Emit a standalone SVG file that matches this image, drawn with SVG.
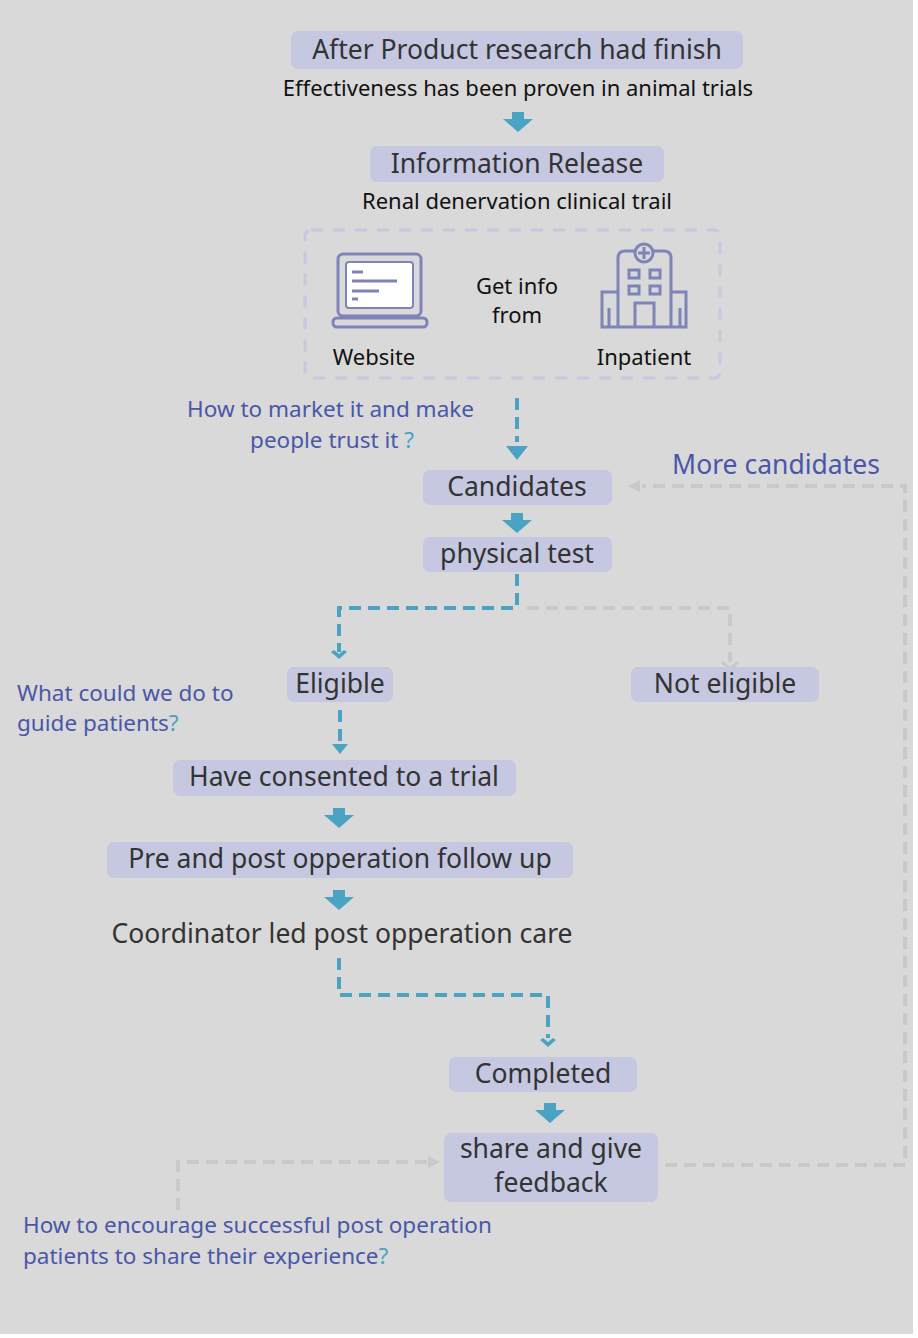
<svg xmlns="http://www.w3.org/2000/svg" width="918" height="1338" viewBox="0 0 918 1338">
<style>
.box{fill:#c5c8e0}
.t{font-family:"Noto Sans","Open Sans",sans-serif;fill:#333;text-anchor:middle}
.n{font-size:26.5px}
.s{font-size:22px;fill:#111}
.q{font-family:"Noto Sans","Open Sans",sans-serif;font-size:22.5px;fill:#4a57a8}
.teal{stroke:#4aa3c3;stroke-width:4;fill:none;stroke-dasharray:12 7}
.gray{stroke:#c9c9c9;stroke-width:4;fill:none;stroke-dasharray:12 7}
.ic{stroke:#7f84b8;stroke-width:3;fill:none}
</style>
<defs>
<path id="ba" d="M-6,0 h12 v7 h9 l-15,13 l-15,-13 h9 z" fill="#4aa3c3"/>
<path id="ah" d="M-8,0 l8,7 l8,-7 l-3,-2 l-5,4 l-5,-4 z" fill="#4aa3c3"/>
</defs>
<rect width="918" height="1338" fill="#fff"/>
<rect width="913" height="1334" fill="#d9d9d9"/>
<g id="connectors">
<use href="#ba" x="518" y="112"/>
<path class="teal" d="M517,398 V442"/>
<path d="M506,446 h22 l-11,14 z" fill="#4aa3c3"/>
<use href="#ba" x="517" y="513"/>
<path class="teal" d="M517,574 V608 H339 V652"/>
<use href="#ah" x="339" y="652"/>
<path class="gray" d="M527,608 H730 V662"/>
<path d="M722,662 l8,7 l8,-7" stroke="#c9c9c9" stroke-width="3" fill="none"/>
<path class="teal" d="M340,710 V742"/>
<path d="M332,744 l8,10 l8,-10 z" fill="#4aa3c3"/>
<use href="#ba" x="339" y="808"/>
<use href="#ba" x="339" y="890"/>
<path class="teal" d="M339,958 V995 H548 V1038"/>
<use href="#ah" x="548" y="1040"/>
<use href="#ba" x="550" y="1103"/>
<path class="gray" d="M665,1165 H905 V486 H642"/>
<path d="M640,480 l-12,6 l12,6" fill="#c9c9c9"/>
<path class="gray" d="M178,1210 V1162 H430"/>
<path d="M428,1156 l12,6 l-12,6" fill="#c9c9c9"/>
</g>
<g id="n1"><rect class="box" x="291" y="31" width="452" height="38" rx="7"/><text class="t n" x="517" y="59">After Product research had finish</text>
<text class="t s" x="518" y="96">Effectiveness has been proven in animal trials</text></g>
<g id="n2"><rect class="box" x="370" y="146" width="294" height="36" rx="7"/><text class="t n" x="517" y="173">Information Release</text>
<text class="t s" x="517" y="209">Renal denervation clinical trail</text></g>
<g id="sources">
<rect x="305" y="230" width="415" height="148" rx="6" fill="none" stroke="#c5c8e0" stroke-width="3" stroke-dasharray="12 10"/>
<rect class="ic" x="338" y="254" width="83" height="62" rx="5"/>
<rect x="346" y="262" width="67" height="46" rx="3" fill="#fff" stroke="#7f84b8" stroke-width="2"/>
<path class="ic" d="M352,272 h11 M352,281 h45 M352,291 h27 M352,299 h6"/>
<rect class="ic" x="333" y="318" width="94" height="9" rx="4"/>
<text class="t s" x="374" y="365">Website</text>
<text class="t s" x="517" y="294">Get info</text>
<text class="t s" x="517" y="323">from</text>
<path class="ic" d="M618,327 V258 q0,-7 7,-7 H664 q7,0 7,7 V327 M618,292 H602 V327 H686 V292 H671 M635,327 V303 H654 V327 M609,327 V308 M680,327 V308"/>
<circle cx="644" cy="253" r="9" fill="#d9d9d9" stroke="#7f84b8" stroke-width="3"/>
<path class="ic" d="M644,247 v12 M638,253 h12"/>
<path class="ic" d="M629,270 h10 v8 h-10 z M650,270 h10 v8 h-10 z M629,286 h10 v8 h-10 z M650,286 h10 v8 h-10 z" stroke-width="2.5"/>
<text class="t s" x="644" y="365">Inpatient</text></g>
<g id="q1"><text class="q" x="474" y="417" text-anchor="end">How to market it and make</text>
<text class="q" x="414" y="448" text-anchor="end">people trust it <tspan fill="#4aa3c3">?</tspan></text></g>
<g id="candidates"><rect class="box" x="423" y="470" width="189" height="35" rx="7"/><text class="t n" x="517" y="496">Candidates</text></g>
<g id="more"><text class="q" x="776" y="474" text-anchor="middle" style="font-size:26.5px">More candidates</text></g>
<g id="physical"><rect class="box" x="423" y="537" width="189" height="35" rx="7"/><text class="t n" x="517" y="563">physical test</text></g>
<g id="eligible"><rect class="box" x="287" y="667" width="106" height="35" rx="7"/><text class="t n" x="340" y="693">Eligible</text></g>
<g id="noteligible"><rect class="box" x="631" y="667" width="188" height="35" rx="7"/><text class="t n" x="725" y="693">Not eligible</text></g>
<g id="q2"><text class="q" x="17" y="701">What could we do to</text>
<text class="q" x="17" y="731">guide patients<tspan fill="#4aa3c3">?</tspan></text></g>
<g id="consented"><rect class="box" x="173" y="760" width="343" height="36" rx="7"/><text class="t n" x="344" y="786">Have consented to a trial</text></g>
<g id="prepost"><rect class="box" x="107" y="842" width="466" height="36" rx="7"/><text class="t n" x="340" y="868">Pre and post opperation follow up</text></g>
<g id="coord"><text class="t n" x="342" y="943">Coordinator led post opperation care</text></g>
<g id="completed"><rect class="box" x="449" y="1057" width="188" height="35" rx="7"/><text class="t n" x="543" y="1083">Completed</text></g>
<g id="share"><rect class="box" x="444" y="1133" width="214" height="69" rx="7"/><text class="t n" x="551" y="1158">share and give</text><text class="t n" x="551" y="1192">feedback</text></g>
<g id="q3"><text class="q" x="23" y="1233">How to encourage successful post operation</text>
<text class="q" x="23" y="1264">patients to share their experience<tspan fill="#4aa3c3">?</tspan></text></g>
</svg>
